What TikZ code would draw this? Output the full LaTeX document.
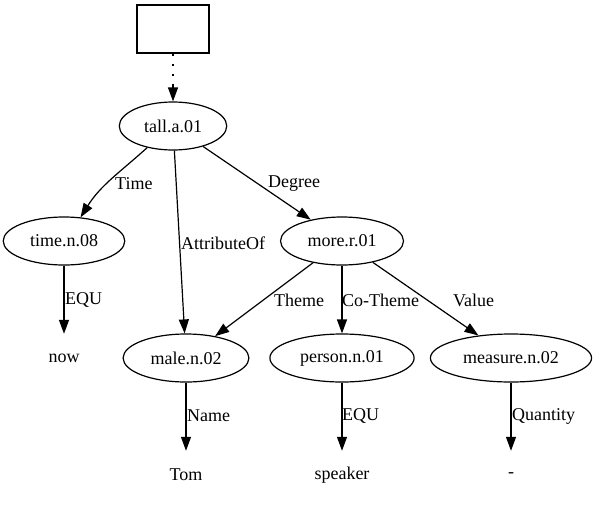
\documentclass[tikz,border=0pt]{standalone}
\usepackage{fontspec}
\setmainfont{Liberation Serif}
\usetikzlibrary{arrows.meta,shapes.geometric}
\begin{document}
\begin{tikzpicture}[x=1pt,y=1pt,
  every node/.style={font=\fontsize{18}{20}\selectfont},
  sense/.style={draw,ellipse,line width=1.2pt,inner xsep=9pt,inner ysep=0pt,minimum height=48pt},
  word/.style={inner sep=0pt,minimum height=48pt},
  edge/.style={-{Triangle[length=14pt,width=10pt]},line width=1.2pt},
  lbl/.style={anchor=west,inner sep=0pt}]
\useasboundingbox (0,0) rectangle (595,-504);
% nodes, edit here for the positions
\node[draw,line width=1.2pt,minimum width=72pt,minimum height=48pt] (root) at (173,-29) {};
\node[sense] (tall) at (173,-126) {tall.a.01};
\node[sense] (timen) at (64,-241) {time.n.08};
\node[sense] (more) at (342,-241) {more.r.01};
\node[word] (now) at (64,-358) {now};
\node[sense] (male) at (186,-358) {male.n.02};
\node[sense] (person) at (342,-358) {person.n.01};
\node[sense] (measure) at (511,-358) {measure.n.02};
\node[word] (tom) at (186,-475) {Tom};
\node[word] (speaker) at (342,-475) {speaker};
\node[word] (minus) at (511,-475) {-};
\coordinate (rootend) at (173,-85);

% edges
\draw[edge] (tall.220) to[out=-138,in=58] (timen.55);
\draw[edge] (tall) -- (male);
\draw[edge] (tall) -- (more);
\draw[edge] (timen) -- (now);
\draw[edge] (more) -- (male);
\draw[edge] (more) -- (person);
\draw[edge] (more) -- (measure);
\draw[edge] (male) -- (tom);
\draw[edge] (person) -- (speaker);
\draw[edge] (measure) -- (minus);

% edge labels
\node[lbl] (ltime) at (115,-184) {Time};
\node[lbl] (lattr) at (181,-243) {AttributeOf};
\node[lbl] (ldeg) at (268,-184) {Degree};
\node[lbl] (lequa) at (65,-300) {EQU};
\node[lbl] (ltheme) at (274,-300) {Theme};
\node[lbl] (lco) at (342,-300) {Co-Theme};
\node[lbl] (lval) at (453,-300) {Value};
\node[lbl] (lname) at (187,-416) {Name};
\node[lbl] (lequb) at (342,-416) {EQU};
\node[lbl] (lqty) at (512,-416) {Quantity};

% dotted link from the box
\draw[line width=1.5pt,dash pattern=on 2pt off 8pt] (root) -- (rootend);
\draw[edge] (rootend) -- (tall);
\end{tikzpicture}
\end{document}
